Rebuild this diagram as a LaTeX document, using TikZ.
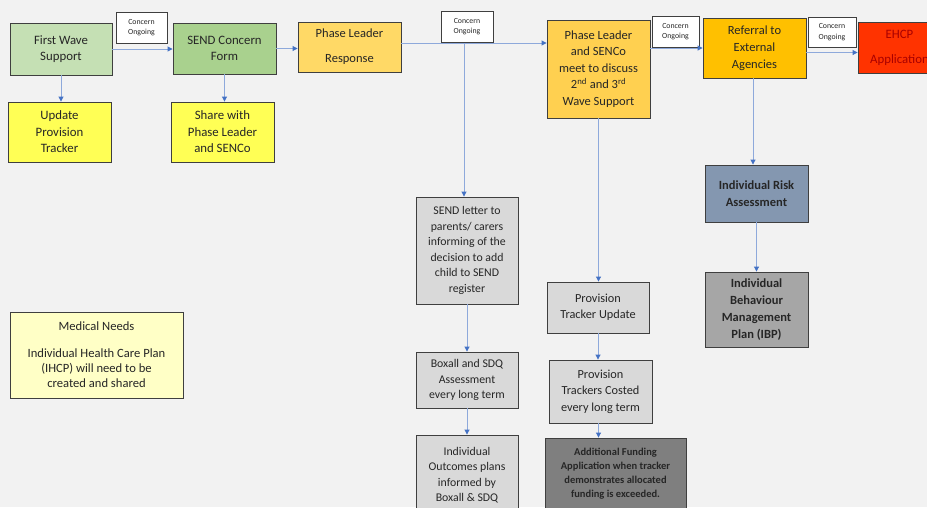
\documentclass[tikz,border=0pt]{standalone}
\usepackage{fontspec}
\setmainfont{Carlito}
\usetikzlibrary{arrows.meta}
\definecolor{bg}{HTML}{F2F2F2}
\definecolor{bord}{HTML}{3F3F3F}
\definecolor{txt}{HTML}{262626}
\definecolor{cfw}{HTML}{C5E0B4}
\definecolor{csf}{HTML}{A9D18E}
\definecolor{cyel}{HTML}{FFFF55}
\definecolor{cplr}{HTML}{FFD966}
\definecolor{cplm}{HTML}{FFD050}
\definecolor{cref}{HTML}{FFC000}
\definecolor{cehcp}{HTML}{FF3300}
\definecolor{tehcp}{HTML}{A80000}
\definecolor{cgrey}{HTML}{D9D9D9}
\definecolor{cdark}{HTML}{7F7F7F}
\definecolor{crisk}{HTML}{8497B0}
\definecolor{cibp}{HTML}{A6A6A6}
\definecolor{cmed}{HTML}{FFFFC6}
\definecolor{lineblue}{HTML}{8EA9DB}
\definecolor{tipblue}{HTML}{4472C4}
\tikzset{
  box/.style={draw=bord, line width=0.9pt, inner sep=0pt, align=center, text=txt,
    font=\fontsize{12.8}{16.5}\selectfont},
  gbox/.style={box, fill=cgrey, font=\fontsize{11.8}{15.5}\selectfont},
  bbox/.style={box, font=\bfseries\fontsize{12.5}{17}\selectfont},
  cbox/.style={draw=bord, line width=0.8pt, fill=white, inner sep=0pt, align=center,
    text=txt, font=\fontsize{7.8}{10.5}\selectfont},
  arr/.style={draw=lineblue, line width=0.9pt, -{Triangle[width=5pt,length=5pt,color=tipblue]}},
}
\begin{document}
\begin{tikzpicture}[x=1pt,y=-1pt]
\useasboundingbox (0,0) rectangle (927,507);
\fill[bg] (0,0) rectangle (927,507);
\clip (0,0) rectangle (927,507);

% top row
\node[box, fill=cfw, minimum width=102pt, minimum height=52pt] (fw) at (61,49) {First Wave\\Support};
\node[box, fill=csf, minimum width=103pt, minimum height=51pt] (sf) at (224.5,48.5) {SEND Concern\\Form};
\node[box, fill=cplr, minimum width=103pt, minimum height=50pt, font=\fontsize{12.5}{25}\selectfont] (plr) at (349.5,47) {Phase Leader\\Response};
\node[box, fill=cplm, minimum width=103pt, minimum height=98pt, font=\fontsize{12.5}{16.5}\selectfont] (plm) at (598.5,69) {Phase Leader\\and SENCo\\meet to discuss\\2\textsuperscript{nd} and 3\textsuperscript{rd}\\Wave Support};
\node[box, fill=cref, minimum width=103pt, minimum height=60pt, font=\fontsize{12.5}{17}\selectfont] (ref) at (754.5,48) {Referral to\\External\\Agencies};
\node[box, fill=cehcp, text=tehcp, minimum width=103pt, minimum height=51pt, font=\fontsize{12.8}{25}\selectfont] (ehcp) at (909.5,47.5) {EHCP\hspace*{20pt}\\Application\hspace*{20pt}};

% concern labels
\node[cbox, minimum width=51pt, minimum height=31pt] (c1) at (141.5,27.5) {Concern\\Ongoing};
\node[cbox, minimum width=52pt, minimum height=31pt] (c2) at (467,26.5) {Concern\\Ongoing};
\node[cbox, minimum width=47pt, minimum height=31pt] (c3) at (675.5,31.5) {Concern\\Ongoing};
\node[cbox, minimum width=48pt, minimum height=30pt] (c4) at (832,32) {Concern\\Ongoing};

% second row
\node[box, fill=cyel, minimum width=103pt, minimum height=60pt] (upt) at (59.5,132) {Update\\Provision\\Tracker};
\node[box, fill=cyel, minimum width=103pt, minimum height=60pt] (share) at (222.5,132) {Share with\\Phase Leader\\and SENCo};

% middle column
\node[gbox, minimum width=102pt, minimum height=107pt] (letter) at (467,250.5) {SEND letter to\\parents/ carers\\informing of the\\decision to add\\child to SEND\\register};
\node[gbox, minimum width=102pt, minimum height=56pt] (boxall) at (467,380) {Boxall and SDQ\\Assessment\\every long term};
\node[gbox, minimum width=102pt, minimum height=80pt] (outc) at (467,475) {Individual\\Outcomes plans\\informed by\\Boxall \& SDQ};

% provision column
\node[gbox, minimum width=102pt, minimum height=51pt, font=\fontsize{12.3}{16.5}\selectfont] (ptu) at (598,307.5) {Provision\\Tracker Update};
\node[gbox, minimum width=103pt, minimum height=63pt, font=\fontsize{12.3}{16.5}\selectfont] (ptc) at (600.5,391.5) {Provision\\Trackers Costed\\every long term};
\node[box, fill=cdark, minimum width=141pt, minimum height=71pt, font=\bfseries\fontsize{10.5}{14}\selectfont] (af) at (615.5,473.5) {Additional Funding\\Application when tracker\\demonstrates allocated\\funding is exceeded.};

% right column
\node[bbox, fill=crisk, minimum width=103pt, minimum height=57pt] (risk) at (756.5,193.5) {Individual Risk\\Assessment};
\node[bbox, fill=cibp, minimum width=103pt, minimum height=75pt] (ibp) at (756.5,309.5) {Individual\\Behaviour\\Management\\Plan (IBP)};

% medical
\node[box, fill=cmed, minimum width=173pt, minimum height=86pt, font=\fontsize{12.6}{15}\selectfont] (med) at (96.5,355) {Medical Needs\\[12pt]Individual Health Care Plan\\(IHCP) will need to be\\created and shared};

% connectors
\draw[arr] (fw.east) -- (fw.east -| sf.west);
\draw[arr] (sf.east) -- (sf.east -| plr.west);
\coordinate (j1) at (464,43);
\draw[arr] (plr.east |- j1) -- (plm.west |- j1);
\draw[arr] (j1) -- (j1 |- letter.north);
\draw[arr] (ref.west -| plm.east) -- (ref.west);
\coordinate (e1) at ([yshift=-5pt]ehcp.west);
\draw[arr] (e1 -| ref.east) -- (e1);
\draw[arr] (fw.south) -- (fw.south |- upt.north);
\draw[arr] (sf.south) -- (sf.south |- share.north);
\draw[arr] (plm.south) -- (plm.south |- ptu.north);
\draw[arr] (ptu.south) -- (ptu.south |- ptc.north);
\draw[arr] ([xshift=-2pt]ptc.south) -- ([xshift=-2pt]ptc.south |- af.north);
\draw[arr] (letter.south) -- (boxall.north);
\draw[arr] (boxall.south) -- (outc.north);
\draw[arr] ([xshift=-1.5pt]ref.south) -- ([xshift=-1.5pt]ref.south |- risk.north);
\draw[arr] (risk.south) -- (ibp.north);
\end{tikzpicture}
\end{document}
